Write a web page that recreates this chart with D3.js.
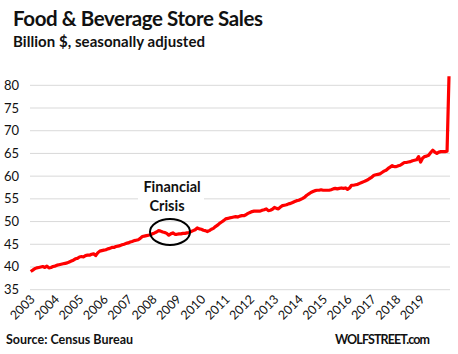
<!DOCTYPE html>
<html>
<head>
<meta charset="utf-8">
<script src="https://cdn.jsdelivr.net/npm/d3@7"></script>
<style>
  body { margin: 0; background: #fff; }
  svg { display: block; }
  text { font-family: Lato, "Open Sans", sans-serif; fill: #111; }
</style>
</head>
<body>
<div id="chart"></div>
<script>
var w = 458;
var h = 354;

// monthly sales, billion $, Jan 2003 .. Mar 2020
var v2003 = [39.0, 39.3, 39.6, 39.8, 39.9, 40.0, 40.1, 39.9, 40.2, 39.8, 39.9, 40.1];
var v2004 = [40.2, 40.4, 40.5, 40.6, 40.7, 40.8, 40.9, 41.1, 41.3, 41.5, 41.8, 41.9];
var v2005 = [42.2, 42.3, 42.2, 42.5, 42.6, 42.6, 42.8, 42.9, 42.5, 43.1, 43.5, 43.6];
var v2006 = [43.7, 43.8, 44.0, 44.1, 44.3, 44.3, 44.5, 44.6, 44.7, 44.9, 45.0, 45.2];
var v2007 = [45.3, 45.5, 45.6, 45.8, 45.9, 46.0, 46.3, 46.7, 46.8, 46.9, 47.0, 47.1];
var v2008 = [47.3, 47.5, 47.7, 48.0, 47.9, 47.7, 47.6, 47.4, 47.0, 47.3, 47.5, 47.2];
var v2009 = [47.2, 47.3, 47.3, 47.4, 47.4, 47.5, 47.6, 47.8, 48.0, 48.2, 48.6, 48.4];
var v2010 = [48.3, 48.1, 48.0, 47.8, 48.0, 48.3, 48.5, 48.9, 49.2, 49.6, 49.9, 50.2];
var v2011 = [50.6, 50.7, 50.8, 50.9, 51.0, 51.1, 51.0, 51.2, 51.3, 51.3, 51.5, 51.8];
var v2012 = [52.0, 52.2, 52.3, 52.3, 52.3, 52.3, 52.5, 52.6, 52.8, 52.4, 52.5, 52.7];
var v2013 = [53.1, 52.9, 52.8, 53.2, 53.5, 53.6, 53.7, 53.9, 54.0, 54.2, 54.4, 54.6];
var v2014 = [54.7, 54.9, 55.1, 55.4, 55.8, 56.1, 56.4, 56.6, 56.8, 56.9, 56.9, 57.0];
var v2015 = [56.9, 56.9, 56.9, 56.9, 57.0, 57.2, 57.3, 57.2, 57.3, 57.4, 57.3, 57.4];
var v2016 = [57.1, 57.4, 58.0, 58.0, 58.1, 58.2, 58.4, 58.6, 58.8, 59.0, 59.2, 59.5];
var v2017 = [59.8, 60.2, 60.3, 60.4, 60.5, 60.8, 61.1, 61.3, 61.7, 62.0, 62.3, 62.1];
var v2018 = [62.1, 62.3, 62.4, 62.7, 63.0, 63.0, 63.1, 63.2, 63.4, 63.5, 63.6, 64.3];
var v2019 = [63.1, 64.0, 64.3, 64.4, 64.6, 65.2, 65.7, 65.3, 65.0, 65.3, 65.4, 65.4];
var v2020 = [65.4, 65.5, 82.0];

var yTicks = [35, 40, 45, 50, 55, 60, 65, 70, 75, 80];
var yearLabels = d3.range(2003, 2020);

var values = [].concat(v2003, v2004, v2005, v2006, v2007, v2008, v2009, v2010,
  v2011, v2012, v2013, v2014, v2015, v2016, v2017, v2018, v2019, v2020);
var data = values.map(function(d, i) {
  return { date: new Date(2003, i, 1), value: d };
});

var x = d3.scaleTime()
  .domain([new Date(2003, 0, 1), new Date(2020, 2, 1)])
  .range([30.7, 449]);

var y = d3.scaleLinear()
  .domain([35, 80])
  .range([289.7, 85.3]);

var svg = d3.select("#chart")
  .append("svg")
  .attr("width", w)
  .attr("height", h);

// titles
svg.append("text")
  .attr("x", 13).attr("y", 26)
  .style("font-size", "20.5px").style("font-weight", "bold")
  .attr("textLength", 250)
  .text("Food & Beverage Store Sales");

svg.append("text")
  .attr("x", 13).attr("y", 47)
  .style("font-size", "15px").style("font-weight", "bold")
  .attr("textLength", 192)
  .text("Billion $, seasonally adjusted");

// gridlines
svg.selectAll(".grid")
  .data(yTicks)
  .enter()
  .append("line")
  .attr("class", "grid")
  .attr("x1", 30).attr("x2", 450)
  .attr("y1", function(d) { return y(d); })
  .attr("y2", function(d) { return y(d); })
  .attr("stroke", "#d9d9d9")
  .attr("stroke-width", 1);

// y labels
svg.selectAll(".ylab")
  .data(yTicks)
  .enter()
  .append("text")
  .attr("class", "ylab")
  .attr("x", 19)
  .attr("y", function(d) { return y(d) + 4.5; })
  .attr("text-anchor", "end")
  .style("font-size", "13px")
  .text(function(d) { return d; });

// x labels, rotated
svg.selectAll(".xlab")
  .data(yearLabels)
  .enter()
  .append("text")
  .attr("class", "xlab")
  .attr("text-anchor", "end")
  .attr("transform", function(d) {
    return "translate(" + (x(new Date(d, 0, 1)) + 5) + ",300) rotate(-45)";
  })
  .style("font-size", "12.5px")
  .text(function(d) { return d; });

// annotation: white box behind the text
svg.append("rect")
  .attr("x", 138).attr("y", 178)
  .attr("width", 66).attr("height", 37)
  .attr("fill", "#fff");

svg.append("text")
  .attr("x", 172).attr("y", 192)
  .attr("text-anchor", "middle")
  .style("font-size", "14.5px").style("font-weight", "bold")
  .text("Financial");

svg.append("text")
  .attr("x", 167).attr("y", 211)
  .attr("text-anchor", "middle")
  .style("font-size", "14.5px").style("font-weight", "bold")
  .text("Crisis");

// the sales line
var line = d3.line()
  .x(function(d) { return x(d.date); })
  .y(function(d) { return y(d.value); });

svg.append("path")
  .datum(data)
  .attr("d", line)
  .attr("fill", "none")
  .attr("stroke", "#ff0000")
  .attr("stroke-width", 3.2)
  .attr("stroke-linejoin", "round");

// circle round the crisis
svg.append("ellipse")
  .attr("cx", 170).attr("cy", 232)
  .attr("rx", 20).attr("ry", 13)
  .attr("fill", "none")
  .attr("stroke", "#000")
  .attr("stroke-width", 2);

// footer
svg.append("text")
  .attr("x", 6).attr("y", 344)
  .style("font-size", "12.5px").style("font-weight", "bold")
  .text("Source: Census Bureau");

svg.append("text")
  .attr("x", 335).attr("y", 344)
  .style("font-size", "12.5px").style("font-weight", "bold")
  .attr("textLength", 95)
  .text("WOLFSTREET.com");
</script>
</body>
</html>
